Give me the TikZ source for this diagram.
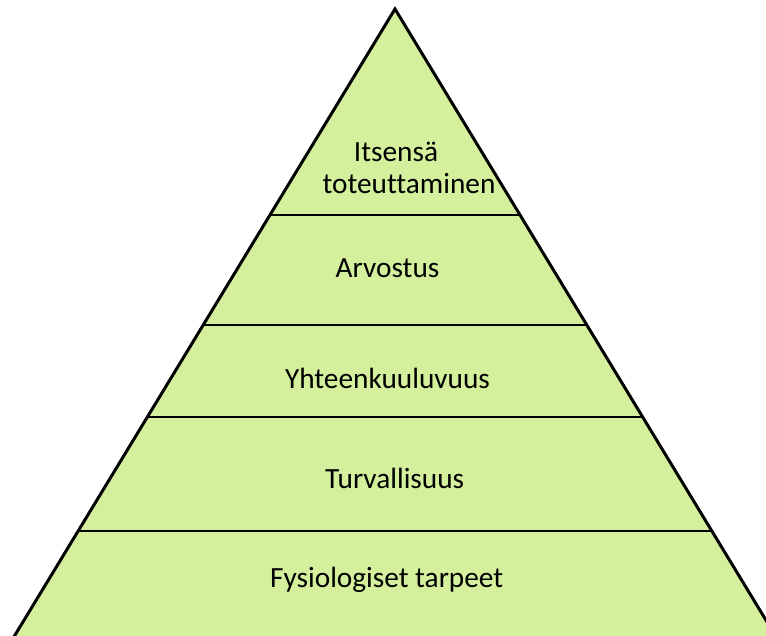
\documentclass[tikz,border=0pt]{standalone}
\usepackage{fontspec}
\setmainfont[Ligatures={NoCommon}]{Carlito}
\usetikzlibrary{calc}
\definecolor{pyrfill}{RGB}{212,240,156}
\tikzset{
  level/.style={font=\fontsize{29.3}{34}\selectfont, text=black, inner sep=0pt, align=center},
  edge/.style={draw=black, line width=3pt, line join=miter},
  divider/.style={draw=black, line width=2.4pt},
}
\begin{document}
\begin{tikzpicture}[x=1pt,y=-1pt]
\useasboundingbox (0,0) rectangle (766,636);
\clip (0,0) rectangle (766,636);
\coordinate (apex) at (395,9);
\coordinate (bl) at (12,640);
\coordinate (br) at (778,640);
\path[fill=pyrfill, edge] (bl) -- (apex) -- (br) -- cycle;
\foreach \t [count=\i] in {0.3265,0.5008,0.6466,0.8273}{
  \coordinate (l\i) at ($(apex)!\t!(bl)$);
  \coordinate (r\i) at ($(apex)!\t!(br)$);
  \draw[divider] (l\i) -- (r\i);
}
\node[level] (n1a) at (396,152) {Itsensä};
\node[level] (n1b) at (409,184) {toteuttaminen};
\node[level] (n2) at (387.5,268) {Arvostus};
\node[level] (n3) at (387.5,378) {Yhteenkuuluvuus};
\node[level] (n4) at (394.7,478) {Turvallisuus};
\node[level] (n5) at (386.7,580) {Fysiologiset tarpeet};
\end{tikzpicture}
\end{document}
